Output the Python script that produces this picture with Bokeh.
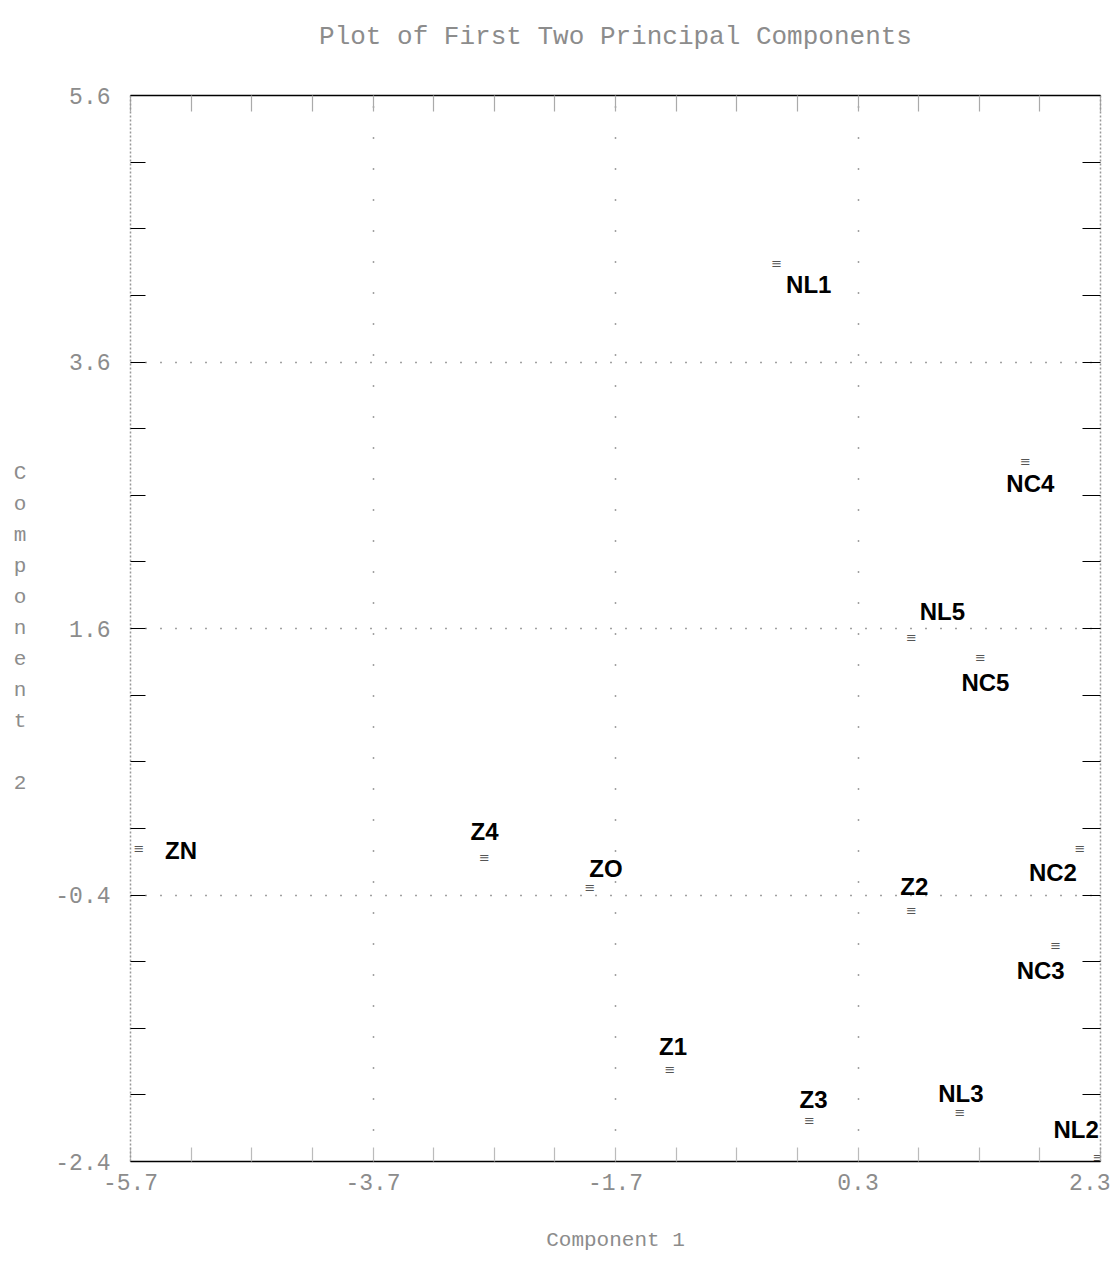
from bokeh.plotting import figure
from bokeh.models import (Range1d, FixedTicker, LinearAxis, ColumnDataSource,
                          PrintfTickFormatter, Grid)
from bokeh.core.properties import value
from bokeh.embed import file_html
from bokeh.resources import INLINE

# ---- data ----
names = ["NL1", "NC4", "NL5", "NC5", "ZN", "Z4", "ZO", "Z2", "NC2", "NC3", "Z1", "Z3", "NL3", "NL2"]
comp1 = [-0.37, 1.68, 0.74, 1.31, -5.63, -2.78, -1.91, 0.74, 2.13, 1.93, -1.25, -0.10, 1.14, 2.28]
comp2 = [4.34, 2.85, 1.53, 1.38, -0.05, -0.12, -0.34, -0.52, -0.05, -0.78, -1.71, -2.09, -2.03, -2.37]

x_major = [-5.7, -3.7, -1.7, 0.3, 2.3]
x_minor = [-5.2, -4.7, -4.2, -3.2, -2.7, -2.2, -1.2, -0.7, -0.2, 0.8, 1.3, 1.8]
y_major = [-2.4, -0.4, 1.6, 3.6, 5.6]
y_minor = [-1.9, -1.4, -0.9, 0.1, 0.6, 1.1, 2.1, 2.6, 3.1, 4.1, 4.6, 5.1]

title_text = "Plot of First Two Principal Components"

# label placement (screen px relative to the marker, down positive; style only)
label_dx = [32, 5, 31, 5, 42, 0, 16, 3, -27, -15, 3, 4, 1, -22]
label_dy = [21, 22, -26, 25, 2, -26, -19, -24, 24, 25, -23, -21, -19, -28]

src = ColumnDataSource(dict(x=comp1, y=comp2, name=names, dx=label_dx, dy=label_dy,
                            mark=["\u2261"] * len(names)))

MONO = "Liberation Mono"
GREY = "#8c8c8c"

p = figure(width=1110, height=1275,
           x_range=Range1d(-5.7, 2.3), y_range=Range1d(-2.4, 5.6),
           output_backend="svg", toolbar_location=None,
           x_axis_location=None, y_axis_location=None,
           min_border_left=130, min_border_right=10, min_border_top=95, min_border_bottom=114,
           outline_line_color=None, background_fill_color="white", border_fill_color="white")
for g in p.grid:
    g.visible = False

# grids (dotted) at interior major ticks
p.add_layout(Grid(dimension=0, ticker=FixedTicker(ticks=x_major[1:-1]),
                  grid_line_color="#444444", grid_line_dash="1 30", grid_line_width=1.5))
p.add_layout(Grid(dimension=1, ticker=FixedTicker(ticks=y_major[1:-1]),
                  grid_line_color="#444444", grid_line_dash="1 14", grid_line_width=1.5))

def axis(ticks, minor, label, line_color, line_dash, tick_color, tick_len, show_labels):
    ax = LinearAxis(ticker=FixedTicker(ticks=ticks, minor_ticks=minor),
                    formatter=PrintfTickFormatter(format="%.1f"),
                    axis_line_color=line_color, axis_line_dash=line_dash, axis_line_width=1.5,
                    major_tick_in=tick_len, major_tick_out=0,
                    minor_tick_in=tick_len, minor_tick_out=0,
                    major_tick_line_color=tick_color, minor_tick_line_color=tick_color,
                    major_tick_line_width=1.2, minor_tick_line_width=1.2)
    if show_labels:
        ax.major_label_text_font = MONO
        ax.major_label_text_font_size = "23px"
        ax.major_label_text_color = GREY
    else:
        ax.major_label_text_font_size = "1px"
        ax.major_label_text_alpha = 0
        ax.major_label_standoff = 0
    if label:
        ax.axis_label = label
        ax.axis_label_text_font = MONO
        ax.axis_label_text_font_size = "21px"
        ax.axis_label_text_font_style = "normal"
        ax.axis_label_text_color = GREY
    return ax

bottom = axis(x_major, x_minor, "Component 1", "black", "solid", "#bbbbbb", 14, True)
bottom.major_label_standoff = 12
bottom.axis_label_standoff = 36
# top axis carries the chart title as its axis label
top = axis(x_major, x_minor, title_text, "black", "solid", "#aaaaaa", 16, False)
top.axis_label_text_font_size = "26px"
top.axis_label_standoff = 44
left = axis(y_major, y_minor, "C\no\nm\np\no\nn\ne\nn\nt\n \n2", "#999999", "2 2", "black", 15, True)
left.major_label_standoff = 20
left.axis_label_standoff = 26
left.axis_label_orientation = "horizontal"
left.axis_label_text_line_height = 1.35
right = axis(y_major, y_minor, None, "#999999", "2 2", "black", 18, False)

p.add_layout(bottom, "below")
p.add_layout(top, "above")
p.add_layout(left, "left")
p.add_layout(right, "right")

# markers
p.text(x="x", y="y", text="mark", source=src, text_font=value("DejaVu Sans"),
       text_font_size="13px", text_color="#555555", text_align="center", text_baseline="middle")
# labels
p.text(x="x", y="y", text="name", source=src, x_offset="dx", y_offset="dy",
       text_font=value("Liberation Sans"), text_font_style="bold", text_font_size="24px",
       text_color="black", text_align="center", text_baseline="middle")

open("out.html", "w").write(file_html(p, INLINE))
